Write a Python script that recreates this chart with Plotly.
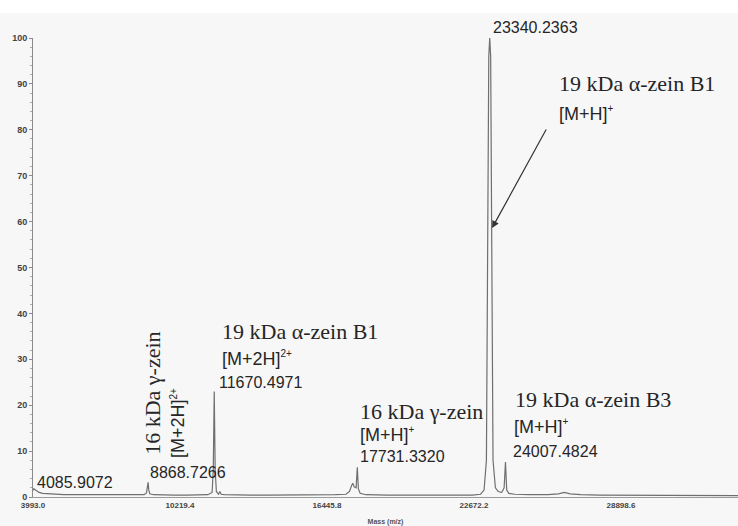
import plotly.graph_objects as go

# spectrum (hand)
mass = [3993, 4030, 4085, 4150, 4250, 4400, 4600, 4800, 5000, 5300, 5600, 6000, 6500,
        7000, 7500, 8000, 8400, 8700, 8800, 8845, 8869, 8895, 8940, 9100, 9500,
        10000, 10500, 11000, 11400, 11580, 11630, 11670, 11710, 11760, 11850, 11910,
        11960, 12100, 12600, 13200, 14000, 15000, 16000, 16800, 17250, 17400, 17480,
        17540, 17600, 17680, 17731, 17775, 17850, 18100, 19000, 20000, 21000, 22000,
        22600, 22950, 23100, 23200, 23260, 23300, 23340, 23380, 23420, 23480, 23580,
        23700, 23850, 23950, 24007, 24060, 24150, 24400, 25000, 25800, 26250, 26500,
        26750, 27200, 28000, 29000, 30000, 31000, 32000, 33000, 33857]
intensity = [1.4, 1.8, 1.6, 1.3, 1.0, 0.8, 0.7, 0.6, 0.6, 0.5, 0.5, 0.5, 0.4,
             0.4, 0.4, 0.4, 0.4, 0.5, 0.9, 2.0, 3.2, 1.6, 0.7, 0.5, 0.4,
             0.4, 0.4, 0.4, 0.5, 1.0, 6.0, 23.0, 6.0, 1.2, 0.6, 1.2,
             0.6, 0.5, 0.4, 0.4, 0.4, 0.4, 0.4, 0.5, 0.6, 1.2, 2.4,
             3.0, 2.2, 2.0, 6.5, 1.8, 0.8, 0.5, 0.4, 0.4, 0.4, 0.4,
             0.4, 0.6, 1.5, 8.0, 60.0, 96.0, 100.0, 96.0, 60.0, 8.0, 2.0,
             1.2, 1.0, 2.0, 7.6, 1.5, 0.8, 0.6, 0.5, 0.5, 0.7, 1.0,
             0.7, 0.5, 0.4, 0.4, 0.4, 0.3, 0.3, 0.3, 0.3]

x_ticks = [3993.0, 10219.4, 16445.8, 22672.2, 28898.6]
x_ticktext = ["3993.0", "10219.4", "16445.8", "22672.2", "28898.6"]
y_ticks = [0, 10, 20, 30, 40, 50, 60, 70, 80, 90, 100]

SUP1 = "<sup><span style='font-size:10px'>+</span></sup>"
SUP2 = "<sup><span style='font-size:10px'>2+</span></sup>"

# peak labels: (text, x, y, font, size)
peak_labels = [
    ("19 kDa α-zein B1", 26190, 90.0, "serif", 22),
    ("[M+H]" + SUP1, 26190, 83.6, "sans", 18),
    ("19 kDa α-zein B1", 11914, 36.1, "serif", 22),
    ("[M+2H]" + SUP2, 11914, 30.2, "sans", 18),
    ("11670.4971", 11790, 25.0, "sans", 16),
    ("16 kDa γ-zein", 17760, 18.6, "serif", 22),
    ("[M+H]" + SUP1, 17760, 13.6, "sans", 18),
    ("17731.3320", 17760, 8.8, "sans", 16),
    ("19 kDa α-zein B3", 24330, 21.2, "serif", 22),
    ("[M+H]" + SUP1, 24290, 15.4, "sans", 18),
    ("24007.4824", 24250, 9.9, "sans", 16),
    ("8868.7266", 8865, 5.3, "sans", 16),
    ("4085.9072", 4070, 3.1, "sans", 16),
]
rotated_labels = [
    ("16 kDa γ-zein", 9076, 22.7, "serif", 22),
    ("[M+2H]" + SUP2, 10135, 16.1, "sans", 18),
]

fonts = {"serif": "Liberation Serif, Times New Roman, serif",
         "sans": "Liberation Sans, Arial, sans-serif"}

fig = go.Figure()
fig.add_trace(go.Scatter(
    x=mass, y=intensity, mode="lines",
    line=dict(color="#6f6f6f", width=1.2),
    hoverinfo="skip", showlegend=False
))

for text, x, y, f, s in peak_labels:
    fig.add_annotation(x=x, y=y, text=text, showarrow=False, xanchor="left",
                       yanchor="middle", font=dict(family=fonts[f], size=s, color="#262626"))

for text, x, y, f, s in rotated_labels:
    fig.add_annotation(x=x, y=y, text=text, showarrow=False, textangle=-90,
                       font=dict(family=fonts[f], size=s, color="#262626"))

# label of the base peak sits above the axis top -> paper y
fig.add_annotation(x=23380, y=1.022, yref="paper", text="23340.2363", showarrow=False,
                   xanchor="left", yanchor="middle",
                   font=dict(family=fonts["sans"], size=16, color="#262626"))

# arrow to main peak
fig.add_annotation(x=23440, y=58.6, ax=25766, ay=80.4, xref="x", yref="y",
                   axref="x", ayref="y", text="", showarrow=True,
                   arrowhead=2, arrowsize=1.2, arrowwidth=1.2, arrowcolor="#333333")

# white strip at top of the scanned page
fig.add_shape(type="rect", xref="paper", yref="paper", x0=-0.05, x1=1.01,
              y0=1.0545, y1=1.09, fillcolor="white", line_width=0, layer="below")

fig.update_layout(
    width=738, height=526,
    margin=dict(l=33, r=0, t=38, b=29),
    paper_bgcolor="#f7f7f7", plot_bgcolor="#f7f7f7",
    font=dict(family="Liberation Sans, Arial, sans-serif", color="#333333"),
    showlegend=False,
)
fig.update_xaxes(
    range=[3993, 33857], tickvals=x_ticks, ticktext=x_ticktext, automargin=False,
    showgrid=False, zeroline=False, showline=True, linecolor="#9a9a9a", linewidth=1,
    tickfont=dict(size=8, weight="bold", color="#444444"), ticks="",
    title=dict(text="Mass (m/z)", font=dict(size=7, weight="bold", color="#555555"), standoff=10),
)
fig.update_yaxes(
    range=[0, 100], tickvals=y_ticks, automargin=False,
    showgrid=False, zeroline=False, showline=True, linecolor="#8a8a8a", linewidth=1,
    ticks="outside", ticklen=3, tickcolor="#8a8a8a",
    minor=dict(dtick=2, ticklen=2, ticks="outside", tickcolor="#aaaaaa"),
    tickfont=dict(size=9, weight="bold", color="#444444"),
)

fig.write_html("out.html", config={"displayModeBar": False},
               post_script="document.body.style.margin='0';")
